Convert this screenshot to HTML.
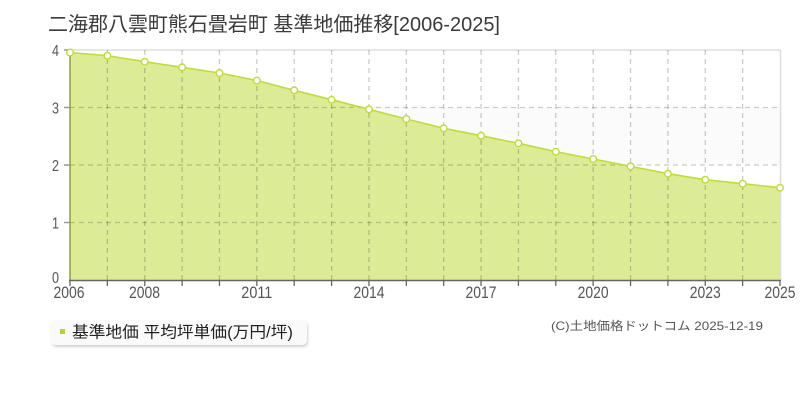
<!DOCTYPE html>
<html><head><meta charset="utf-8"><style>
html,body{margin:0;padding:0;background:#fff;width:800px;height:400px;overflow:hidden}
svg{display:block}
text{font-family:"Liberation Sans","Noto Sans CJK JP",sans-serif}
</style></head><body>
<svg width="800" height="400" viewBox="0 0 800 400" xmlns="http://www.w3.org/2000/svg">
<defs>
<filter id="sh" x="-5%" y="-20%" width="110%" height="150%"><feDropShadow dx="1" dy="2" stdDeviation="1.2" flood-color="#000" flood-opacity="0.18"/></filter>
</defs>
<rect width="800" height="400" fill="#fff"/>
<text x="48" y="31" font-size="20" fill="#3a3a3a" textLength="452" lengthAdjust="spacingAndGlyphs">二海郡八雲町熊石畳岩町 基準地価推移[2006-2025]</text>
<!-- bands -->
<rect x="70" y="107.5" width="710" height="57.5" fill="#fcfbfc"/>
<rect x="70" y="222.5" width="710" height="57.5" fill="#fcfbfc"/>
<!-- border -->
<line x1="70" y1="50" x2="780.5" y2="50" stroke="#ddd" stroke-width="1.5"/>
<line x1="780.5" y1="50" x2="780.5" y2="280" stroke="#ddd" stroke-width="1.5"/>
<!-- fill -->
<polygon fill="#dcec96" points="70,280 70,52.5 107.37,55.7 144.74,61.7 182.11,67.3 219.47,73 256.84,80.5 294.21,90.3 331.58,99.7 368.95,109.3 406.32,119 443.68,128.3 481.05,135.7 518.42,143.3 555.79,151.7 593.16,159 630.53,166.3 667.89,173.7 705.26,179.7 742.63,183.7 780,187.7 780,280"/>
<!-- grid -->
<g stroke="rgba(0,0,0,0.2)" stroke-width="1.3" stroke-dasharray="5,4" fill="none">
<line x1="70" y1="107.5" x2="780" y2="107.5"/>
<line x1="70" y1="165" x2="780" y2="165"/>
<line x1="70" y1="222.5" x2="780" y2="222.5"/>
<line x1="107.37" y1="50" x2="107.37" y2="280"/>
<line x1="144.74" y1="50" x2="144.74" y2="280"/>
<line x1="182.11" y1="50" x2="182.11" y2="280"/>
<line x1="219.47" y1="50" x2="219.47" y2="280"/>
<line x1="256.84" y1="50" x2="256.84" y2="280"/>
<line x1="294.21" y1="50" x2="294.21" y2="280"/>
<line x1="331.58" y1="50" x2="331.58" y2="280"/>
<line x1="368.95" y1="50" x2="368.95" y2="280"/>
<line x1="406.32" y1="50" x2="406.32" y2="280"/>
<line x1="443.68" y1="50" x2="443.68" y2="280"/>
<line x1="481.05" y1="50" x2="481.05" y2="280"/>
<line x1="518.42" y1="50" x2="518.42" y2="280"/>
<line x1="555.79" y1="50" x2="555.79" y2="280"/>
<line x1="593.16" y1="50" x2="593.16" y2="280"/>
<line x1="630.53" y1="50" x2="630.53" y2="280"/>
<line x1="667.89" y1="50" x2="667.89" y2="280"/>
<line x1="705.26" y1="50" x2="705.26" y2="280"/>
<line x1="742.63" y1="50" x2="742.63" y2="280"/>
</g>
<!-- line -->
<polyline fill="none" stroke="#c0dc3a" stroke-width="1.6" points="70,52.5 107.37,55.7 144.74,61.7 182.11,67.3 219.47,73 256.84,80.5 294.21,90.3 331.58,99.7 368.95,109.3 406.32,119 443.68,128.3 481.05,135.7 518.42,143.3 555.79,151.7 593.16,159 630.53,166.3 667.89,173.7 705.26,179.7 742.63,183.7 780,187.7"/>
<!-- axes -->
<line x1="70" y1="50" x2="70" y2="280" stroke="#8f9e3c" stroke-width="1.5"/>
<line x1="69" y1="280.5" x2="781" y2="280.5" stroke="#666" stroke-width="1.5"/>
<g stroke="#999" stroke-width="1.5">
<line x1="64" y1="50" x2="70" y2="50"/>
<line x1="64" y1="107.5" x2="70" y2="107.5"/>
<line x1="64" y1="165" x2="70" y2="165"/>
<line x1="64" y1="222.5" x2="70" y2="222.5"/>
</g>
<g stroke="#666" stroke-width="1.3">
<line x1="70" y1="280" x2="70" y2="286"/>
<line x1="107.37" y1="280" x2="107.37" y2="286"/>
<line x1="144.74" y1="280" x2="144.74" y2="286"/>
<line x1="182.11" y1="280" x2="182.11" y2="286"/>
<line x1="219.47" y1="280" x2="219.47" y2="286"/>
<line x1="256.84" y1="280" x2="256.84" y2="286"/>
<line x1="294.21" y1="280" x2="294.21" y2="286"/>
<line x1="331.58" y1="280" x2="331.58" y2="286"/>
<line x1="368.95" y1="280" x2="368.95" y2="286"/>
<line x1="406.32" y1="280" x2="406.32" y2="286"/>
<line x1="443.68" y1="280" x2="443.68" y2="286"/>
<line x1="481.05" y1="280" x2="481.05" y2="286"/>
<line x1="518.42" y1="280" x2="518.42" y2="286"/>
<line x1="555.79" y1="280" x2="555.79" y2="286"/>
<line x1="593.16" y1="280" x2="593.16" y2="286"/>
<line x1="630.53" y1="280" x2="630.53" y2="286"/>
<line x1="667.89" y1="280" x2="667.89" y2="286"/>
<line x1="705.26" y1="280" x2="705.26" y2="286"/>
<line x1="742.63" y1="280" x2="742.63" y2="286"/>
<line x1="780" y1="280" x2="780" y2="286"/>
</g>
<!-- points -->
<g fill="#fff" stroke="#c0dc3a" stroke-width="1.4">
<circle cx="70" cy="52.5" r="3.3"/>
<circle cx="107.37" cy="55.7" r="3.3"/>
<circle cx="144.74" cy="61.7" r="3.3"/>
<circle cx="182.11" cy="67.3" r="3.3"/>
<circle cx="219.47" cy="73" r="3.3"/>
<circle cx="256.84" cy="80.5" r="3.3"/>
<circle cx="294.21" cy="90.3" r="3.3"/>
<circle cx="331.58" cy="99.7" r="3.3"/>
<circle cx="368.95" cy="109.3" r="3.3"/>
<circle cx="406.32" cy="119" r="3.3"/>
<circle cx="443.68" cy="128.3" r="3.3"/>
<circle cx="481.05" cy="135.7" r="3.3"/>
<circle cx="518.42" cy="143.3" r="3.3"/>
<circle cx="555.79" cy="151.7" r="3.3"/>
<circle cx="593.16" cy="159" r="3.3"/>
<circle cx="630.53" cy="166.3" r="3.3"/>
<circle cx="667.89" cy="173.7" r="3.3"/>
<circle cx="705.26" cy="179.7" r="3.3"/>
<circle cx="742.63" cy="183.7" r="3.3"/>
<circle cx="780" cy="187.7" r="3.3"/>
</g>
<!-- y labels -->
<g font-size="16" fill="#555">
<text x="52" y="56" textLength="7" lengthAdjust="spacingAndGlyphs">4</text>
<text x="52" y="113.5" textLength="7" lengthAdjust="spacingAndGlyphs">3</text>
<text x="52" y="171" textLength="7" lengthAdjust="spacingAndGlyphs">2</text>
<text x="52" y="228.5" textLength="7" lengthAdjust="spacingAndGlyphs">1</text>
<text x="52" y="283" textLength="7" lengthAdjust="spacingAndGlyphs">0</text>
</g>
<!-- x labels -->
<g font-size="17" fill="#555">
<text x="53.5" y="298" textLength="31" lengthAdjust="spacingAndGlyphs">2006</text>
<text x="129" y="298" textLength="31" lengthAdjust="spacingAndGlyphs">2008</text>
<text x="241.3" y="298" textLength="31" lengthAdjust="spacingAndGlyphs">2011</text>
<text x="353.5" y="298" textLength="31" lengthAdjust="spacingAndGlyphs">2014</text>
<text x="465.5" y="298" textLength="31" lengthAdjust="spacingAndGlyphs">2017</text>
<text x="577.6" y="298" textLength="31" lengthAdjust="spacingAndGlyphs">2020</text>
<text x="689.8" y="298" textLength="31" lengthAdjust="spacingAndGlyphs">2023</text>
<text x="764.5" y="298" textLength="31" lengthAdjust="spacingAndGlyphs">2025</text>
</g>
<!-- legend -->
<rect x="51" y="320" width="256" height="25" rx="5" ry="5" fill="#fafafa" filter="url(#sh)"/>
<rect x="60" y="329" width="5" height="5" fill="#b5d334"/>
<text x="72" y="337.5" font-size="16" fill="#222" textLength="221" lengthAdjust="spacingAndGlyphs">基準地価 平均坪単価(万円/坪)</text>
<!-- footer -->
<text x="551" y="330" font-size="12" fill="#555" textLength="212" lengthAdjust="spacingAndGlyphs">(C)土地価格ドットコム 2025-12-19</text>
</svg>
</body></html>
